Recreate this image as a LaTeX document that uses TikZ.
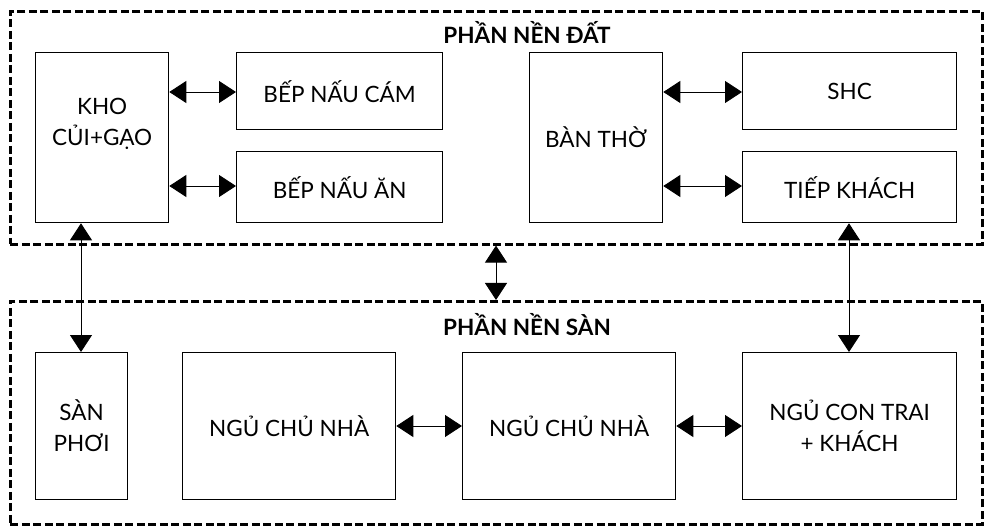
\documentclass[tikz,border=0pt]{standalone}
\usepackage{fontspec}
\setmainfont{Lato}
\usetikzlibrary{arrows.meta}
\begin{document}
\begin{tikzpicture}[x=1pt,y=-1pt,
  room/.style={draw, line width=1.3pt, anchor=north west, inner sep=0pt,
    align=center, font=\fontsize{22.5}{31}\selectfont},
  roomtext/.style={align=center, font=\fontsize{22.5}{31}\selectfont},
  zone/.style={draw, line width=2.6pt, dash pattern=on 8pt off 3.5pt,
    anchor=north west, inner sep=0pt},
  zonetitle/.style={font=\bfseries\fontsize{22.5}{26}\selectfont},
  link/.style={line width=0.9pt,
    {Triangle[length=17pt,width=22pt]}-{Triangle[length=17pt,width=22pt]}}]
\useasboundingbox (0,0) rectangle (985,529);

% two floor zones
\node[zone, minimum width=972pt, minimum height=233pt] (dat) at (9,10) {};
\node[zone, minimum width=972pt, minimum height=223pt] (san) at (9,300) {};
\node[zonetitle] (tdat) at (527,32) {PHẦN NỀN ĐẤT};
\node[zonetitle] (tsan) at (527,325) {PHẦN NỀN SÀN};

% ground-floor rooms
\node[room, minimum width=133pt, minimum height=170pt] (kho) at (35,52) {};
\node[roomtext] (khotext) at ([yshift=14pt]kho.center) {KHO\\CỦI+GẠO};
\node[room, minimum width=206pt, minimum height=77pt] (cam) at (236,52) {BẾP NẤU CÁM};
\node[room, minimum width=206pt, minimum height=71pt] (an) at (236,151) {BẾP NẤU ĂN};
\node[room, minimum width=133pt, minimum height=170pt] (tho) at (529,52) {BÀN THỜ};
\node[room, minimum width=214pt, minimum height=77pt] (shc) at (742,52) {SHC};
\node[room, minimum width=214pt, minimum height=71pt] (khach) at (742,151) {TIẾP KHÁCH};

% raised-floor rooms
\node[room, minimum width=92pt, minimum height=147pt] (phoi) at (35,352) {SÀN\\PHƠI};
\node[room, minimum width=213pt, minimum height=147pt] (ngu1) at (182,352) {NGỦ CHỦ NHÀ};
\node[room, minimum width=213pt, minimum height=147pt] (ngu2) at (462,352) {NGỦ CHỦ NHÀ};
\node[room, minimum width=214pt, minimum height=147pt] (ngu3) at (742,352) {NGỦ CON TRAI\\+ KHÁCH};

% links
\draw[link] (kho.east |- 0,92) -- (cam.west |- 0,92);
\draw[link] (kho.east |- 0,186) -- (an.west |- 0,186);
\draw[link] (tho.east |- 0,92) -- (shc.west |- 0,92);
\draw[link] (tho.east |- 0,186) -- (khach.west |- 0,186);
\draw[link] (kho.south -| 81,0) -- (phoi.north -| 81,0);
\draw[link] (khach.south -| 849,0) -- (ngu3.north -| 849,0);
\draw[link] (dat.south -| 496,0) -- (san.north -| 496,0);
\draw[link] (ngu1.east |- 0,426) -- (ngu2.west |- 0,426);
\draw[link] (ngu2.east |- 0,426) -- (ngu3.west |- 0,426);
\end{tikzpicture}
\end{document}
